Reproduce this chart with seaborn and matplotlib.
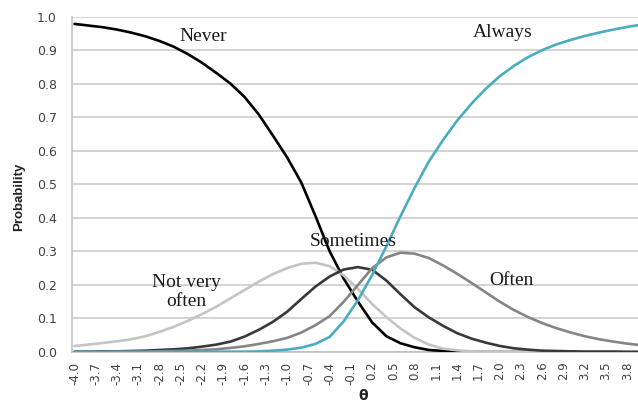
import numpy as np
import pandas as pd
import matplotlib
matplotlib.use("Agg")
import matplotlib.pyplot as plt
import seaborn as sns

# ---- data ----
theta = [-4.0, -3.8, -3.6, -3.4, -3.2, -3.0, -2.8, -2.6, -2.4, -2.2, -2.0,
         -1.8, -1.6, -1.4, -1.2, -1.0, -0.8, -0.6, -0.4, -0.2, 0.0,
         0.2, 0.4, 0.6, 0.8, 1.0, 1.2, 1.4, 1.6, 1.8, 2.0,
         2.2, 2.4, 2.6, 2.8, 3.0, 3.2, 3.4, 3.6, 3.8, 4.0]

never = [0.978, 0.973, 0.968, 0.961, 0.952, 0.941, 0.927, 0.910, 0.888, 0.862, 0.832,
         0.800, 0.760, 0.708, 0.645, 0.580, 0.505, 0.405, 0.300, 0.218, 0.150,
         0.088, 0.047, 0.026, 0.014, 0.006, 0.003, 0.001, 0.001, 0.000, 0.000,
         0.000, 0.000, 0.000, 0.000, 0.000, 0.000, 0.000, 0.000, 0.000, 0.000]

not_very_often = [0.018, 0.022, 0.027, 0.032, 0.038, 0.047, 0.060, 0.075, 0.093, 0.113, 0.135,
                  0.160, 0.185, 0.210, 0.232, 0.250, 0.263, 0.266, 0.256, 0.228, 0.188,
                  0.143, 0.104, 0.070, 0.042, 0.022, 0.010, 0.005, 0.002, 0.001, 0.001,
                  0.000, 0.000, 0.000, 0.000, 0.000, 0.000, 0.000, 0.000, 0.000, 0.000]

sometimes = [0.001, 0.001, 0.002, 0.002, 0.003, 0.004, 0.006, 0.008, 0.011, 0.016, 0.022,
             0.031, 0.046, 0.066, 0.090, 0.120, 0.158, 0.195, 0.225, 0.246, 0.253,
             0.245, 0.213, 0.172, 0.133, 0.103, 0.078, 0.056, 0.040, 0.028, 0.018,
             0.011, 0.007, 0.004, 0.003, 0.002, 0.001, 0.001, 0.001, 0.000, 0.000]

often = [0.000, 0.000, 0.000, 0.001, 0.001, 0.001, 0.002, 0.003, 0.004, 0.006, 0.008,
         0.012, 0.017, 0.024, 0.032, 0.042, 0.058, 0.080, 0.107, 0.150, 0.200,
         0.250, 0.282, 0.296, 0.293, 0.280, 0.258, 0.233, 0.206, 0.178, 0.150,
         0.125, 0.104, 0.086, 0.071, 0.058, 0.047, 0.038, 0.031, 0.025, 0.020]

always = [0.000, 0.000, 0.000, 0.000, 0.000, 0.000, 0.000, 0.000, 0.000, 0.001, 0.001,
          0.001, 0.001, 0.002, 0.004, 0.007, 0.013, 0.024, 0.045, 0.092, 0.155,
          0.230, 0.315, 0.405, 0.490, 0.568, 0.632, 0.690, 0.740, 0.784, 0.822,
          0.853, 0.879, 0.900, 0.917, 0.930, 0.942, 0.952, 0.961, 0.969, 0.976]

categories = ["Never", "Not very often", "Sometimes", "Often", "Always"]
series = [never, not_very_often, sometimes, often, always]

x_tick_labels = ["-4.0", "-3.7", "-3.4", "-3.1", "-2.8", "-2.5", "-2.2", "-1.9", "-1.6",
                 "-1.3", "-1.0", "-0.7", "-0.4", "-0.1", "0.2", "0.5", "0.8", "1.1",
                 "1.4", "1.7", "2.0", "2.3", "2.6", "2.9", "3.2", "3.5", "3.8"]
y_tick_labels = ["0.0", "0.1", "0.2", "0.3", "0.4", "0.5", "0.6", "0.7", "0.8", "0.9", "1.0"]

# label anchor positions (theta, probability) for the in-plot annotations
label_text = ["Never", "Not very\noften", "Sometimes", "Often", "Always"]
label_theta = [-2.18, -2.42, -0.07, 2.17, 2.04]
label_prob = [0.940, 0.178, 0.330, 0.212, 0.952]

# ---- build the frame ----
df = pd.concat([pd.DataFrame({"theta": theta, "prob": s, "cat": c})
                for c, s in zip(categories, series)], ignore_index=True)

sns.set_style("white")
plt.rcParams["font.family"] = ["DejaVu Sans"]

W, H = 638, 407
fig = plt.figure(figsize=(W / 100, H / 100), dpi=100)
ax = fig.add_axes([72 / W, 1 - 352 / H, (W - 72) / W, (352 - 16.5) / H])

palette = {"Never": "#000000", "Not very often": "#c4c4c4", "Sometimes": "#383838",
           "Often": "#858585", "Always": "#4aacc0"}
sns.lineplot(data=df, x="theta", y="prob", hue="cat", hue_order=categories,
             palette=palette, linewidth=1.9, legend=False, ax=ax, zorder=3)
for ln in ax.get_lines():
    ln.set_solid_joinstyle("round")

ax.set_xlim(-4.035, 3.95)
ax.set_ylim(0, 1.0)

yt = [float(t) for t in y_tick_labels]
ax.set_yticks(yt)
ax.set_yticklabels(y_tick_labels, fontsize=9, color="#404040")
xt = [float(t) for t in x_tick_labels]
ax.set_xticks(xt)
ax.set_xticklabels(x_tick_labels, fontsize=8.5, color="#404040", rotation=90)
ax.tick_params(axis="both", length=0)
ax.tick_params(axis="x", pad=7)
ax.tick_params(axis="y", pad=11)

ax.grid(axis="y", color="#c8c8c8", linewidth=1.1, zorder=0)
ax.grid(axis="x", visible=False)
for s in ["top", "right"]:
    ax.spines[s].set_visible(False)
for s in ["left", "bottom"]:
    ax.spines[s].set_color("#bdbdbd")
    ax.spines[s].set_linewidth(1.1)

ax.set_xlabel("")
ax.set_ylabel("")
fig.text(19 / W, 1 - 197 / H, "Probability", rotation=90, ha="center", va="center",
         fontsize=9.5, fontweight="bold", family="Liberation Sans", color="#222222")
fig.text(363 / W, 1 - 396 / H, "θ", ha="center", va="center",
         fontsize=10, fontweight="bold", color="#222222")

for txt, tx, ty in zip(label_text, label_theta, label_prob):
    ax.text(tx, ty, txt, ha="center", va="center", fontsize=14,
            family="Liberation Serif", color="#1a1a1a", linespacing=1.15, zorder=4)

fig.savefig("out.png", dpi=100)
